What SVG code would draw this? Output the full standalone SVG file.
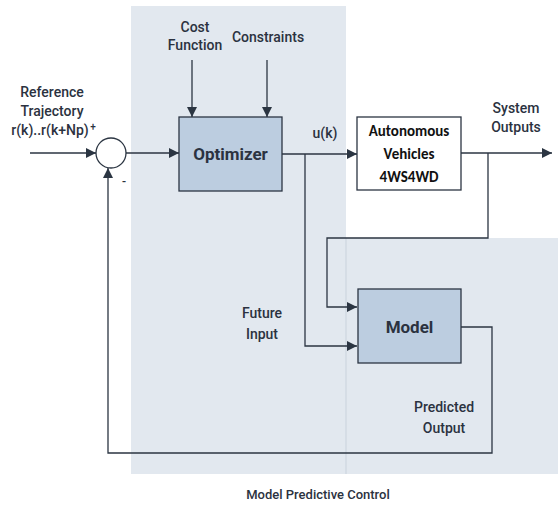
<svg xmlns="http://www.w3.org/2000/svg" width="558" height="508" viewBox="0 0 558 508">
<style>
.t{font-family:Roboto,"Liberation Sans",sans-serif;font-size:14px;font-weight:500;fill:#2b3240;text-anchor:middle}
.b{font-weight:bold}
.c{font-family:Carlito,"Liberation Sans",sans-serif;font-size:15px;font-weight:bold;fill:#111;text-anchor:middle}
.ln{fill:none;stroke:#2b3542;stroke-width:1.3}
.blk{fill:#bccde0;stroke:#2b3542;stroke-width:1.3}
</style>
<defs>
<marker id="a" viewBox="0 0 10 10" refX="10" refY="5" markerWidth="10" markerHeight="10" markerUnits="userSpaceOnUse" orient="auto">
<path d="M0,0 L10,5 L0,10 z" fill="#2b3542"/>
</marker>
</defs>
<rect width="558" height="508" fill="#fff"/>
<rect x="131" y="6" width="215" height="468" fill="#e2e8ef"/>
<rect x="346" y="238" width="212" height="236" fill="#e2e8ef"/>
<line x1="346" y1="238" x2="346" y2="474" stroke="#c9d2dc" stroke-width="1"/>
<g id="connectors">
<line class="ln" x1="30" y1="153" x2="96" y2="153" marker-end="url(#a)"/>
<line class="ln" x1="126" y1="153" x2="179" y2="153" marker-end="url(#a)"/>
<line class="ln" x1="192" y1="60" x2="192" y2="117" marker-end="url(#a)"/>
<line class="ln" x1="267" y1="60" x2="267" y2="117" marker-end="url(#a)"/>
<line class="ln" x1="282" y1="154" x2="357" y2="154" marker-end="url(#a)"/>
<polyline class="ln" points="305,154 305,346 357,346" marker-end="url(#a)"/>
<line class="ln" x1="461" y1="153" x2="552" y2="153" marker-end="url(#a)"/>
<polyline class="ln" points="488,153 488,238 327,238 327,307 357,307" marker-end="url(#a)"/>
<polyline class="ln" points="461,327 492,327 492,453 108,453 108,168" marker-end="url(#a)"/>
</g>
<g id="sum"><circle cx="111" cy="153" r="15" fill="#fff" stroke="#2b3542" stroke-width="1.3"/></g>
<g id="optimizer"><rect class="blk" x="179" y="117" width="103" height="74"/><text class="t b" x="230.5" y="160" style="font-size:17px">Optimizer</text></g>
<g id="vehicle"><rect x="357" y="117" width="104" height="73" fill="#fff" stroke="#2b3542" stroke-width="1.3"/>
<text class="c" x="409" y="136">Autonomous</text><text class="c" x="409" y="159">Vehicles</text><text class="c" x="409" y="182">4WS4WD</text></g>
<g id="model"><rect class="blk" x="358" y="289" width="103" height="74"/><text class="t b" x="409.5" y="333" style="font-size:17px">Model</text></g>
<g id="labels">
<text class="t" x="52" y="97">Reference</text>
<text class="t" x="52" y="116">Trajectory</text>
<text class="t" x="50" y="135">r(k)..r(k+Np)</text>
<text class="t" x="93" y="130" style="font-size:10px">+</text>
<text class="t" x="124" y="186" style="font-size:12px">-</text>
<text class="t" x="195" y="32">Cost</text>
<text class="t" x="195" y="50">Function</text>
<text class="t" x="268" y="42">Constraints</text>
<text class="t" x="325" y="138">u(k)</text>
<text class="t" x="516" y="113">System</text>
<text class="t" x="516" y="132">Outputs</text>
<text class="t" x="262" y="318">Future</text>
<text class="t" x="262" y="339">Input</text>
<text class="t" x="444" y="412">Predicted</text>
<text class="t" x="444" y="433">Output</text>
<text class="t" x="318" y="499" style="font-size:13px">Model Predictive Control</text>
</g>
</svg>
